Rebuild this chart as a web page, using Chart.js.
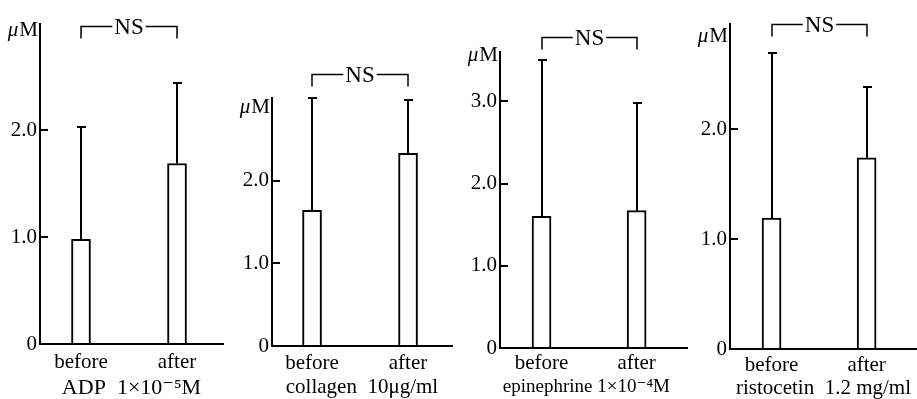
<!DOCTYPE html>
<html>
<head>
<meta charset="utf-8">
<script src="https://cdn.jsdelivr.net/npm/chart.js@4"></script>
<style>
  body { margin: 0; background: #fff; }
  #wrap { position: relative; width: 917px; height: 399px; overflow: hidden; }
  canvas { position: absolute; top: 0; }
</style>
</head>
<body>
<div id="wrap">
  <canvas id="c1" width="230" height="399" style="left:0px"></canvas>
  <canvas id="c2" width="230" height="399" style="left:230px"></canvas>
  <canvas id="c3" width="230" height="399" style="left:460px"></canvas>
  <canvas id="c4" width="227" height="399" style="left:690px"></canvas>
</div>
<script>
// values (mean and SD, in uM)
var categories = ['before', 'after'];

var adpMean = [0.98, 1.69];
var adpSd = [1.05, 0.75];

var collagenMean = [1.64, 2.33];
var collagenSd = [1.36, 0.64];

var epiMean = [1.60, 1.67];
var epiSd = [1.90, 1.31];

var ristoMean = [1.19, 1.74];
var ristoSd = [1.50, 0.64];

var yTicks3 = [0, 1, 2];
var yTicks4 = [0, 1, 2, 3];

Chart.defaults.font.family = '"Liberation Serif", "DejaVu Serif", serif';
Chart.defaults.color = '#000';

var SERIF = '"Liberation Serif", "DejaVu Serif", serif';

function makePanel(id, p) {
  // error bars, NS bracket and the uM unit label
  var extras = {
    id: 'extras' + id,
    afterDatasetsDraw: function(chart) {
      var ctx = chart.ctx, xs = chart.scales.x, ys = chart.scales.y;
      var area = chart.chartArea;
      ctx.save();
      ctx.strokeStyle = '#000';
      ctx.fillStyle = '#000';
      ctx.lineWidth = 2;

      for (var i = 0; i < p.mean.length; i++) {
        var px = Math.round(xs.getPixelForValue(i + 1));
        var y0 = ys.getPixelForValue(p.mean[i]);
        var y1 = Math.round(ys.getPixelForValue(p.mean[i] + p.sd[i]));
        ctx.beginPath();
        ctx.moveTo(px, y0);
        ctx.lineTo(px, y1);
        ctx.moveTo(px - 4, y1);
        ctx.lineTo(px + 5, y1);
        ctx.stroke();
      }

      // NS bracket
      var xa = Math.round(xs.getPixelForValue(1));
      var xb = Math.round(xs.getPixelForValue(2));
      var yb = Math.round(ys.getPixelForValue(p.nsLevel)) + 0.5;
      ctx.font = '23px ' + SERIF;
      var tw = ctx.measureText('NS').width;
      var mid = (xa + xb) / 2;
      ctx.lineWidth = 1.5;
      ctx.beginPath();
      ctx.moveTo(xa, yb + 12);
      ctx.lineTo(xa, yb);
      ctx.lineTo(mid - tw / 2 - 2, yb);
      ctx.moveTo(mid + tw / 2 + 2, yb);
      ctx.lineTo(xb, yb);
      ctx.lineTo(xb, yb + 12);
      ctx.stroke();
      ctx.textAlign = 'center';
      ctx.textBaseline = 'middle';
      ctx.fillText('NS', mid, yb + 1);

      // unit label
      ctx.textBaseline = 'middle';
      ctx.textAlign = 'left';
      ctx.font = '21px ' + SERIF;
      var mw = ctx.measureText('M').width;
      ctx.font = 'italic 21px ' + SERIF;
      var uw = ctx.measureText('\u03bc').width;
      var right = area.left - 2;
      var uy = area.top + p.muDy;
      ctx.fillText('\u03bc', right - mw - uw - 1, uy);
      ctx.font = '21px ' + SERIF;
      ctx.fillText('M', right - mw, uy);
      ctx.restore();
    }
  };

  return new Chart(document.getElementById(id), {
    type: 'bar',
    data: {
      datasets: [{
        data: p.mean.map(function(m, i) { return {x: i + 1, y: m}; }),
        backgroundColor: '#fff',
        borderColor: '#000',
        borderWidth: 2,
        barThickness: 19
      }]
    },
    options: {
      responsive: false,
      animation: false,
      layout: { padding: { top: p.top, right: p.right, left: 0, bottom: 0 } },
      plugins: { legend: { display: false }, tooltip: { enabled: false } },
      scales: {
        x: {
          type: 'linear',
          offset: false,
          min: p.xMin,
          max: p.xMax,
          afterBuildTicks: function(axis) {
            axis.ticks = categories.map(function(c, i) { return {value: i + 1}; });
          },
          afterFit: function(axis) { axis.height = 399 - p.base; },
          ticks: {
            padding: p.labelPad,
            font: { size: 21, lineHeight: 1 },
            maxRotation: 0,
            callback: function(v) { return categories[v - 1]; }
          },
          grid: { display: false, drawTicks: false, offset: false },
          border: { display: true, color: '#000', width: 2 },
          title: {
            display: true,
            text: p.title,
            font: { size: p.titleSize, lineHeight: 1 },
            padding: { top: 0, bottom: p.titlePad }
          }
        },
        y: {
          min: 0,
          max: p.yMax,
          afterBuildTicks: function(axis) {
            axis.ticks = p.yTicks.map(function(v) { return {value: v}; });
          },
          afterFit: function(axis) { axis.width = p.axisX; },
          ticks: {
            padding: 11,
            font: { size: 21 },
            callback: function(v) { return v === 0 ? '0' : v.toFixed(1); }
          },
          grid: {
            drawOnChartArea: false,
            drawTicks: true,
            tickLength: -8,
            color: '#000',
            lineWidth: 2
          },
          border: { display: true, color: '#000', width: 2 }
        }
      }
    },
    plugins: [extras]
  });
}

makePanel('c1', {
  mean: adpMean, sd: adpSd, yMax: 3.0, yTicks: yTicks3,
  title: 'ADP  1\u00d710\u207b\u2075M', titleSize: 22, titlePad: 0,
  nsLevel: 2.98, top: 14, right: 7, axisX: 40, base: 344,
  xMin: 0.573, xMax: 2.479, labelPad: 7.5, muDy: 7
});

makePanel('c2', {
  mean: collagenMean, sd: collagenSd, yMax: 3.0, yTicks: yTicks3,
  title: 'collagen  10\u03bcg/ml', titleSize: 21, titlePad: 1,
  nsLevel: 3.29, top: 98, right: 8, axisX: 42, base: 346,
  xMin: 0.583, xMax: 2.458, labelPad: 6.5, muDy: 9
});

makePanel('c3', {
  mean: epiMean, sd: epiSd, yMax: 3.6, yTicks: yTicks4,
  title: 'epinephrine 1\u00d710\u207b\u2074M   ', titleSize: 19, titlePad: 2.5,
  nsLevel: 3.78, top: 52, right: 3, axisX: 40, base: 348,
  xMin: 0.563, xMax: 2.53, labelPad: 4.5, muDy: 3
});

makePanel('c4', {
  mean: ristoMean, sd: ristoSd, yMax: 2.96, yTicks: yTicks3,
  title: 'ristocetin  1.2 mg/ml', titleSize: 21, titlePad: 0,
  nsLevel: 2.96, top: 15, right: 0, axisX: 40, base: 349,
  xMin: 0.563, xMax: 2.53, labelPad: 5.5, muDy: 13
});
</script>
</body>
</html>
